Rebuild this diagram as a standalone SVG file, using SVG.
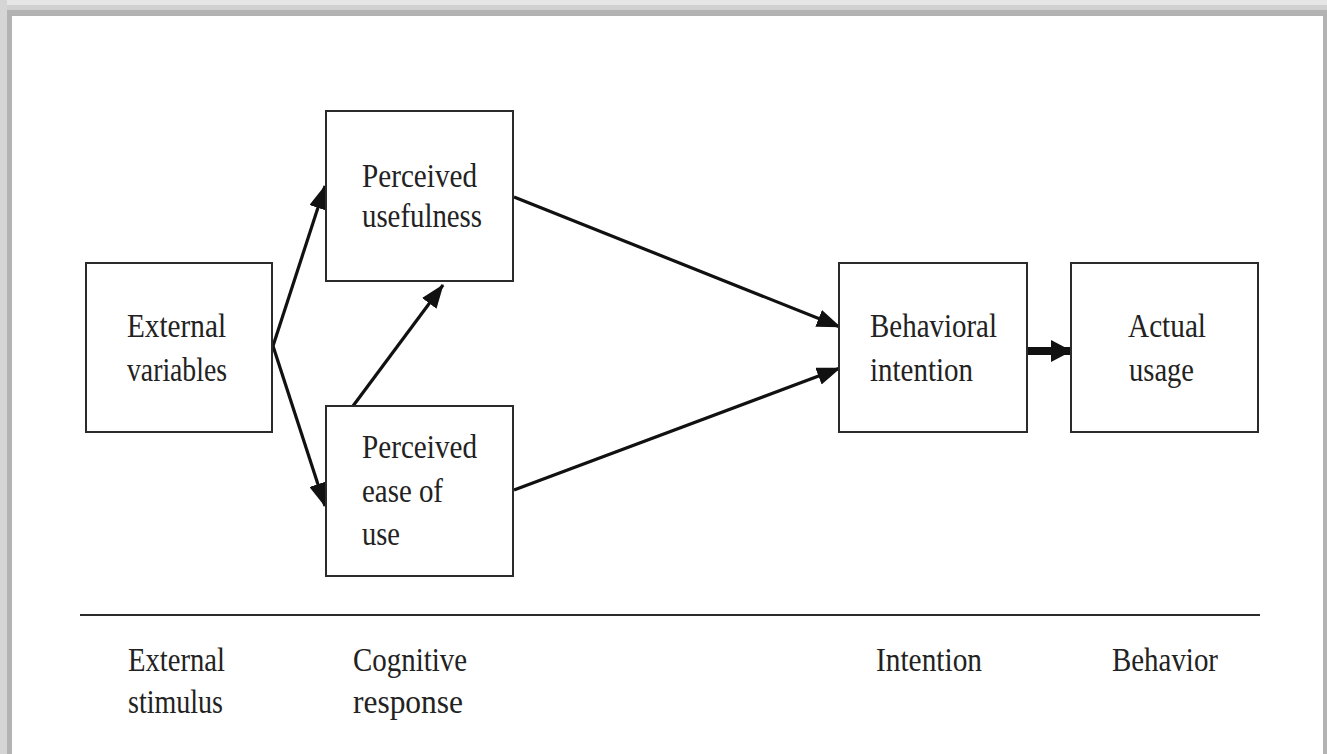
<svg xmlns="http://www.w3.org/2000/svg" width="1327" height="754" viewBox="0 0 1327 754">
<style>
.box{fill:#fff;stroke:#2b2b2b;stroke-width:2}
.t{font-family:"Liberation Serif","Times New Roman",serif;font-size:33px;fill:#222}
.c{stroke:#111;stroke-width:3.2;fill:none}
</style>
<defs>
<marker id="ah" markerUnits="userSpaceOnUse" markerWidth="24" markerHeight="18" refX="23" refY="9" orient="auto">
<path d="M0,0 L24,9 L0,18 z" fill="#111"/>
</marker>
<marker id="ahb" markerUnits="userSpaceOnUse" markerWidth="22" markerHeight="22" refX="21" refY="11" orient="auto">
<path d="M0,0 L21,11 L0,22 z" fill="#111"/>
</marker>
</defs>
<rect x="0" y="0" width="1327" height="754" fill="#fff"/>
<g id="frame">
<rect x="0" y="0" width="1327" height="5" fill="#e6e6e6"/>
<rect x="0" y="5" width="1327" height="5" fill="#d0d0d0"/>
<rect x="0" y="10" width="1327" height="6" fill="#b3b3b3"/>
<rect x="0" y="0" width="7" height="754" fill="#d5d5d5"/>
<rect x="7" y="10" width="5" height="744" fill="#b3b3b3"/>
<rect x="1323" y="16" width="4" height="738" fill="#b3b3b3"/>
</g>
<g id="connectors">
<line class="c" x1="273" y1="346" x2="325" y2="186" marker-end="url(#ah)"/>
<line class="c" x1="273" y1="346" x2="325" y2="506" marker-end="url(#ah)"/>
<line class="c" x1="353" y1="406" x2="443" y2="285" marker-end="url(#ah)"/>
<line class="c" x1="514" y1="197" x2="840" y2="327" marker-end="url(#ah)"/>
<line class="c" x1="514" y1="490" x2="840" y2="368" marker-end="url(#ah)"/>
<line x1="1028" y1="351" x2="1072" y2="351" stroke="#111" stroke-width="8" marker-end="url(#ahb)"/>
<line x1="80" y1="615" x2="1260" y2="615" stroke="#2b2b2b" stroke-width="2"/>
</g>
<g id="external-variables">
<rect class="box" x="86" y="263" width="186" height="169"/>
<text class="t" x="127" y="337" textLength="99" lengthAdjust="spacingAndGlyphs">External</text>
<text class="t" x="127" y="381" textLength="100" lengthAdjust="spacingAndGlyphs">variables</text>
</g>
<g id="perceived-usefulness">
<rect class="box" x="326" y="111" width="187" height="170"/>
<text class="t" x="362" y="187" textLength="115" lengthAdjust="spacingAndGlyphs">Perceived</text>
<text class="t" x="362" y="227" textLength="120" lengthAdjust="spacingAndGlyphs">usefulness</text>
</g>
<g id="perceived-ease-of-use">
<rect class="box" x="326" y="406" width="187" height="170"/>
<text class="t" x="362" y="458" textLength="115" lengthAdjust="spacingAndGlyphs">Perceived</text>
<text class="t" x="362" y="502" textLength="81" lengthAdjust="spacingAndGlyphs">ease of</text>
<text class="t" x="362" y="545" textLength="38" lengthAdjust="spacingAndGlyphs">use</text>
</g>
<g id="behavioral-intention">
<rect class="box" x="839" y="263" width="188" height="169"/>
<text class="t" x="870" y="337" textLength="127" lengthAdjust="spacingAndGlyphs">Behavioral</text>
<text class="t" x="870" y="381" textLength="103" lengthAdjust="spacingAndGlyphs">intention</text>
</g>
<g id="actual-usage">
<rect class="box" x="1071" y="263" width="187" height="169"/>
<text class="t" x="1128" y="337" textLength="78" lengthAdjust="spacingAndGlyphs">Actual</text>
<text class="t" x="1129" y="381" textLength="65" lengthAdjust="spacingAndGlyphs">usage</text>
</g>
<g id="stage-labels">
<text class="t" x="128" y="671" textLength="97" lengthAdjust="spacingAndGlyphs">External</text>
<text class="t" x="128" y="713" textLength="95" lengthAdjust="spacingAndGlyphs">stimulus</text>
<text class="t" x="353" y="671" textLength="114" lengthAdjust="spacingAndGlyphs">Cognitive</text>
<text class="t" x="353" y="713" textLength="110" lengthAdjust="spacingAndGlyphs">response</text>
<text class="t" x="876" y="671" textLength="106" lengthAdjust="spacingAndGlyphs">Intention</text>
<text class="t" x="1112" y="671" textLength="106" lengthAdjust="spacingAndGlyphs">Behavior</text>
</g>
</svg>
